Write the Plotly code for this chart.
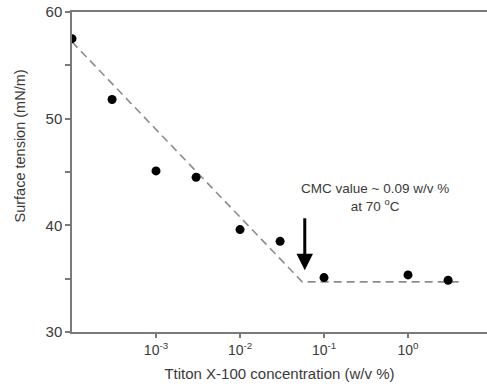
import plotly.graph_objects as go
import math

# Data
conc = [1e-4, 3e-4, 1e-3, 3e-3, 1e-2, 3e-2, 1e-1, 1.0, 3.0]
tension = [57.5, 51.8, 45.1, 44.5, 39.6, 38.5, 35.1, 35.35, 34.85]

fit_x = [1e-4, 0.055, 4.6]
fit_y = [57.2, 34.7, 34.7]

x_tickvals = [1e-3, 1e-2, 1e-1, 1]
x_ticktext = ["10<sup>-3</sup>", "10<sup>-2</sup>", "10<sup>-1</sup>", "10<sup>0</sup>"]
y_tickvals = [30, 40, 50, 60]
y_minor = [35, 45, 55]

cmc_arrow_x = 0.059
cmc_arrow_tip = 35.8
cmc_arrow_tail = 40.8
cmc_text_x = 0.40
cmc_text_y = 42.6

axis_col = "#7a7a7a"
text_col = "#3a3a3a"
font_fam = "Liberation Sans, Arial, sans-serif"

fig = go.Figure()
fig.add_trace(go.Scatter(x=fit_x, y=fit_y, mode="lines",
                         line=dict(color="#8c8c8c", width=1.6, dash="8px,5px"),
                         showlegend=False, hoverinfo="skip"))
fig.add_trace(go.Scatter(x=conc, y=tension, mode="markers",
                         marker=dict(color="black", size=9),
                         showlegend=False))

fig.add_annotation(x=math.log10(cmc_arrow_x), y=cmc_arrow_tip,
                   ax=math.log10(cmc_arrow_x), ay=cmc_arrow_tail,
                   xref="x", yref="y", axref="x", ayref="y",
                   showarrow=True, arrowhead=2, arrowsize=1.1, arrowwidth=3,
                   arrowcolor="black", text="")
fig.add_annotation(x=math.log10(cmc_text_x), y=cmc_text_y, xref="x", yref="y",
                   text="CMC value ~ 0.09 w/v %<br>at 70 <sup>o</sup>C",
                   showarrow=False, align="center",
                   font=dict(family=font_fam, size=13.5, color=text_col))

# y-axis title (placed as annotation to match the reference's off-centre position)
fig.add_annotation(x=-0.125, y=0.58, xref="paper", yref="paper",
                   text="Surface tension (mN/m)", textangle=-90, showarrow=False,
                   xanchor="center", yanchor="middle",
                   font=dict(family=font_fam, size=14.5, color=text_col))

fig.update_xaxes(type="log", range=[-4, 0.94],
                 tickvals=x_tickvals, ticktext=x_ticktext,
                 ticks="outside", ticklen=4, tickcolor=axis_col, tickwidth=1.5,
                 showline=True, linecolor=axis_col, linewidth=1.5, mirror=True,
                 showgrid=False, zeroline=False,
                 tickfont=dict(family=font_fam, size=14, color=text_col),
                 title=dict(text="Ttiton X-100 concentration (w/v %)", standoff=12,
                            font=dict(family=font_fam, size=15, color=text_col)))
fig.update_yaxes(range=[30, 60], tickvals=y_tickvals,
                 ticks="outside", ticklen=5, tickcolor=axis_col, tickwidth=1.5,
                 minor=dict(tickvals=y_minor, ticks="outside", ticklen=5,
                            tickcolor=axis_col, tickwidth=1.5),
                 showline=True, linecolor=axis_col, linewidth=1.5,
                 showgrid=False, zeroline=False,
                 tickfont=dict(family=font_fam, size=15, color=text_col))

fig.update_layout(width=487, height=388,
                  margin=dict(l=72, r=0, t=12, b=56),
                  plot_bgcolor="white", paper_bgcolor="white")

fig.write_html("out.html")
